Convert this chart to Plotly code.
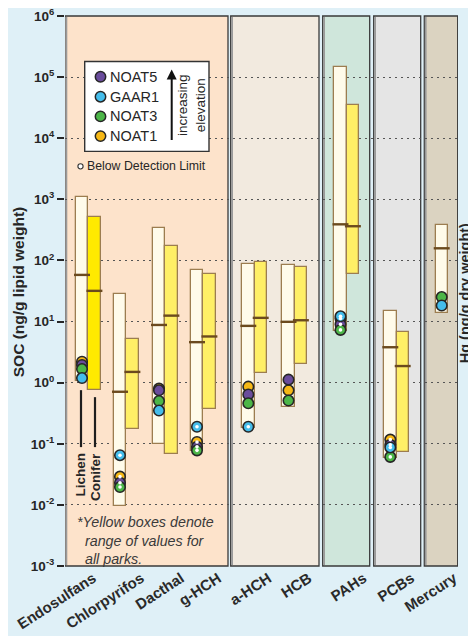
import plotly.graph_objects as go

# ---------------- data ----------------
categories = ["Endosulfans", "Chlorpyrifos", "Dacthal", "g-HCH", "a-HCH",
              "HCB", "PAHs", "PCBs", "Mercury"]
lichen_low = [1.05, 0.0097, 0.1, 0.075, 0.18, 0.40, 7.0, 0.058, 13.8]
lichen_med = [58, 0.71, 8.8, 4.6, 8.5, 9.9, 390, 3.8, 158]
lichen_high = [1100, 27.8, 336, 71, 88, 85, 149000, 15.1, 376]
conifer_low = [0.76, 0.175, 0.069, 0.37, 1.44, 2.0, 61, 0.073, None]
conifer_med = [31.8, 1.5, 12.5, 5.7, 11.5, 10.5, 363, 1.87, None]
conifer_high = [508, 5.1, 173, 61, 96, 78.6, 34800, 6.8, None]

noat1 = [2.2, 0.029, 0.80, 0.107, 0.86, 0.75, 11.2, 0.117, None]
noat1_bdl = [0, 1, 0, 1, 0, 0, 1, 1, 0]
noat5 = [1.95, 0.023, 0.75, 0.089, 0.64, 1.12, 9.0, 0.096, None]
noat5_bdl = [0, 1, 0, 1, 0, 0, 1, 1, 0]
noat3 = [1.67, 0.0196, 0.50, 0.078, 0.46, 0.51, 7.3, 0.061, 25.2]
noat3_bdl = [0, 1, 0, 1, 0, 0, 1, 1, 0]
gaar1 = [1.19, 0.065, 0.35, 0.19, 0.19, None, 12.2, 0.087, 18.3]
gaar1_bdl = [0, 1, 0, 1, 1, 0, 1, 1, 0]

ytick_vals = [1e-3, 1e-2, 1e-1, 1e0, 1e1, 1e2, 1e3, 1e4, 1e5, 1e6]
ytick_text = ["10<sup>-3</sup>", "10<sup>-2</sup>", "10<sup>-1</sup>", "10<sup>0</sup>",
              "10<sup>1</sup>", "10<sup>2</sup>", "10<sup>3</sup>", "10<sup>4</sup>",
              "10<sup>5</sup>", "10<sup>6</sup>"]

# ---------------- layout helpers (screen pixels) ----------------
OFF = 8                      # page body margin
W, H = 476 - OFF, 636 - OFF
PL, PR, PT, PB = 65, 458, 15.5, 566
def px(x): return (x - PL) / (PR - PL)
def py(y): return (PB - y) / (PB - PT)

lichen_x = [82, 120, 159, 197, 248.3, 288.5, 340.5, 390.3, 441.7]
BW = 12.4
conifer_x = [x + BW for x in lichen_x]
label_shift = [5, 15, 16, 15, 14, 14, 17, 15, 6]
tick_x = [x + BW / 2 + s for x, s in zip(lichen_x, label_shift)]

FONT = "Liberation Sans, Arial, Helvetica, sans-serif"
PAGE_BG = "#DFF0F7"
LICHEN_FILL = "#FFFBEA"
CONIFER_FILL = ["#FFEA00"] + ["#FFEF66"] * 8
BOX_LINE = "#9C7D50"
MED = "#6B4A1E"
COL = {"NOAT5": "#6A4C9C", "GAAR1": "#44BDEB", "NOAT3": "#4CB648", "NOAT1": "#F6B816"}

fig = go.Figure()

# lichen boxes
fig.add_trace(go.Bar(
    x=lichen_x, base=lichen_low,
    y=[h - l for h, l in zip(lichen_high, lichen_low)],
    width=BW, marker=dict(color=LICHEN_FILL, line=dict(color=BOX_LINE, width=1.3)),
    showlegend=False, hoverinfo="skip"))
# conifer boxes
cx = [x for x, v in zip(conifer_x, conifer_low) if v is not None]
cl = [v for v in conifer_low if v is not None]
ch = [v for v in conifer_high if v is not None]
fig.add_trace(go.Bar(
    x=cx, base=cl, y=[h - l for h, l in zip(ch, cl)],
    width=BW, marker=dict(color=CONIFER_FILL[:len(cx)], line=dict(color=BOX_LINE, width=1.3)),
    showlegend=False, hoverinfo="skip"))

# medians
med_x = lichen_x + [x for x, v in zip(conifer_x, conifer_med) if v is not None]
med_y = lichen_med + [v for v in conifer_med if v is not None]
fig.add_trace(go.Scatter(
    x=med_x, y=med_y, mode="markers",
    marker=dict(symbol="line-ew", size=BW - 1, line=dict(color=MED, width=2.4)),
    showlegend=False, hoverinfo="skip"))

# site circles
series = [("NOAT1", noat1, noat1_bdl), ("NOAT5", noat5, noat5_bdl),
          ("NOAT3", noat3, noat3_bdl), ("GAAR1", gaar1, gaar1_bdl)]
dots_x, dots_y = [], []
for name, vals, bdl in series:
    xs = [x for x, v in zip(lichen_x, vals) if v is not None]
    ys = [v for v in vals if v is not None]
    fig.add_trace(go.Scatter(
        x=xs, y=ys, mode="markers", name=name,
        marker=dict(size=10.5, color=COL[name], line=dict(color="#262626", width=1.6)),
        showlegend=False))
    for x, v, b in zip(lichen_x, vals, bdl):
        if v is not None and b:
            dots_x.append(x); dots_y.append(v)
fig.add_trace(go.Scatter(
    x=dots_x, y=dots_y, mode="markers",
    marker=dict(size=3.6, color="white", line=dict(width=0)),
    showlegend=False, hoverinfo="skip"))

# ---------------- panels ----------------
panels = [(65, 228, "#FDE3CB"), (230.7, 319, "#F2EADF"), (322.7, 369.7, "#CFE6DB"),
          (373.7, 420.7, "#E5E5E5"), (424.3, 457.7, "#DBD3C1")]
shapes = []
for x0, x1, c in panels:
    shapes.append(dict(type="rect", xref="x", yref="paper", x0=x0, x1=x1, y0=0, y1=1,
                       fillcolor=c, line=dict(color="#3A3A3A", width=1.3), layer="below"))
    shapes.append(dict(type="line", xref="x", yref="paper", x0=x0 + 1.4, x1=x0 + 1.4,
                       y0=0.002, y1=0.998, line=dict(color="#9A9A9A", width=1.8), layer="below"))

# lichen / conifer pointer lines
shapes.append(dict(type="line", xref="paper", yref="paper", x0=px(81), x1=px(81),
                   y0=py(390), y1=py(447), line=dict(color="#1E1E1E", width=2.2)))
shapes.append(dict(type="line", xref="paper", yref="paper", x0=px(95), x1=px(95),
                   y0=py(397), y1=py(447), line=dict(color="#1E1E1E", width=2.2)))

# legend box
shapes.append(dict(type="rect", xref="paper", yref="paper", x0=px(84.7), x1=px(209),
                   y0=py(151), y1=py(61), fillcolor="white",
                   line=dict(color="#333333", width=1.4)))
legend_items = [("NOAT5", 76.3), ("GAAR1", 96.3), ("NOAT3", 116), ("NOAT1", 135.7)]
annotations = []
for name, yp in legend_items:
    shapes.append(dict(type="circle", xref="paper", yref="paper",
                       xsizemode="pixel", ysizemode="pixel",
                       xanchor=px(100.5), yanchor=py(yp),
                       x0=-5.2, x1=5.2, y0=-5.2, y1=5.2,
                       fillcolor=COL[name], line=dict(color="#262626", width=1.5)))
    annotations.append(dict(xref="paper", yref="paper", x=px(107.5), y=py(yp),
                            text=name, showarrow=False, xanchor="left", yanchor="middle",
                            font=dict(family=FONT, size=14.5, color="#262626")))
# BDL legend symbol
shapes.append(dict(type="circle", xref="paper", yref="paper",
                   xsizemode="pixel", ysizemode="pixel",
                   xanchor=px(80.5), yanchor=py(166),
                   x0=-2.6, x1=2.6, y0=-2.6, y1=2.6,
                   fillcolor="white", line=dict(color="#333333", width=1.1)))
annotations.append(dict(xref="paper", yref="paper", x=px(85), y=py(166),
                        text="Below Detection Limit", showarrow=False,
                        xanchor="left", yanchor="middle",
                        font=dict(family=FONT, size=12.3, color="#262626")))
# elevation arrow + text
annotations.append(dict(xref="paper", yref="paper", x=px(171.7), y=py(69),
                        ax=0, ay=72, text="", showarrow=True, arrowhead=2,
                        arrowsize=1, arrowwidth=2, arrowcolor="#111111"))
annotations.append(dict(xref="paper", yref="paper", x=px(191.5), y=py(105),
                        text="increasing<br>elevation", showarrow=False, textangle=-90,
                        xanchor="center", yanchor="middle",
                        font=dict(family=FONT, size=13.5, color="#262626")))
# lichen / conifer labels
annotations.append(dict(xref="paper", yref="paper", x=px(80.5), y=py(451),
                        text="<b>Lichen</b>", showarrow=False, textangle=-90,
                        xanchor="center", yanchor="top",
                        font=dict(family=FONT, size=13.5, color="#262626")))
annotations.append(dict(xref="paper", yref="paper", x=px(95), y=py(451),
                        text="<b>Conifer</b>", showarrow=False, textangle=-90,
                        xanchor="center", yanchor="top",
                        font=dict(family=FONT, size=13.5, color="#262626")))
# footnote
annotations.append(dict(xref="paper", yref="paper", x=px(75), y=py(540),
                        text="<i>*Yellow boxes denote<br>  range of values for<br>  all parks.</i>",
                        showarrow=False, xanchor="left", yanchor="middle", align="left",
                        font=dict(family=FONT, size=14.3, color="#3A3A3A")))
# axis titles
annotations.append(dict(xref="paper", yref="paper", x=px(18), y=py(292),
                        text="<b>SOC (ng/g lipid weight)</b>", showarrow=False, textangle=-90,
                        xanchor="center", yanchor="middle",
                        font=dict(family=FONT, size=15.5, color="#262626")))
annotations.append(dict(xref="paper", yref="paper", x=px(465), y=py(293),
                        text="<b>Hg (ng/g dry weight)</b>", showarrow=False, textangle=-90,
                        xanchor="center", yanchor="middle",
                        font=dict(family=FONT, size=14.5, color="#262626")))

fig.update_layout(
    width=W, height=H,
    margin=dict(l=PL - OFF, r=W - (PR - OFF), t=PT - OFF, b=H - (PB - OFF),
                pad=0, autoexpand=False),
    paper_bgcolor=PAGE_BG, plot_bgcolor=PAGE_BG,
    barmode="overlay", bargap=0,
    shapes=shapes, annotations=annotations,
    font=dict(family=FONT, color="#262626"),
    xaxis=dict(range=[PL, PR], showgrid=False, zeroline=False, showline=False,
               automargin=False, ticklabeloverflow="allow",
               tickvals=tick_x, ticktext=["<b>%s</b>" % c for c in categories],
               tickangle=-33, ticks="", tickfont=dict(family=FONT, size=15, color="#2A2A2A"),
               fixedrange=True),
    yaxis=dict(type="log", range=[-3, 6], tickvals=ytick_vals, automargin=False,
               ticklabeloverflow="allow",
               ticktext=["<b>%s</b>" % t for t in ytick_text],
               tickfont=dict(family=FONT, size=13.5, color="#262626"),
               ticks="outside", ticklen=7, tickwidth=1.5, tickcolor="#262626",
               showgrid=True, gridcolor="#555555", gridwidth=1.3, griddash="1.5px,4.5px",
               showline=False, zeroline=False, fixedrange=True),
)

fig.write_html("out.html")
